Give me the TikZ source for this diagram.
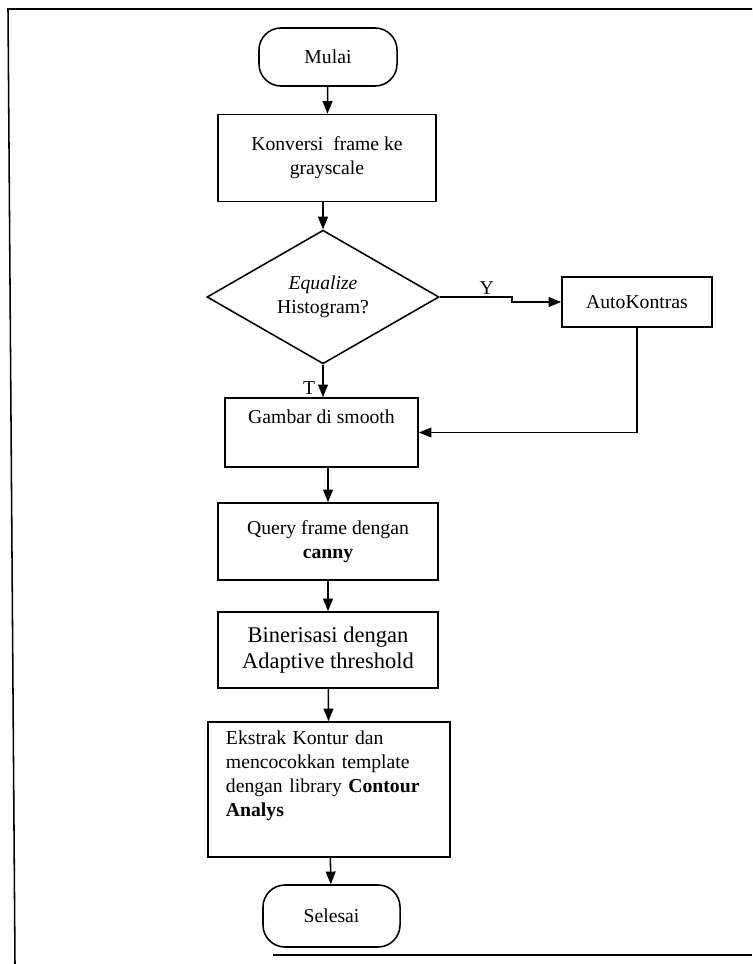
\documentclass[tikz,border=0pt]{standalone}
\usepackage{fontspec}
\setmainfont{Liberation Serif}
\usetikzlibrary{shapes.geometric,arrows.meta}

\begin{document}
\begin{tikzpicture}[x=0.025cm,y=-0.025cm,
  every node/.style={font=\fontsize{14}{17}\selectfont},
  flowbox/.style={draw,rectangle,line width=1.1pt,align=center,inner sep=2pt},
  terminal/.style={draw,rectangle,rounded corners=0.55cm,line width=1.1pt},
  decision/.style={draw,diamond,line width=1.1pt,align=center,inner sep=0pt},
  arr/.style={-{Triangle[length=9pt,width=7pt]},line width=1.1pt},
  link/.style={line width=1.1pt}]
\useasboundingbox (0,0) rectangle (752,964);
\draw[link] (15,964) -- (8,9) -- (752,9);
\draw[link] (273,955) -- (752,955);
\node[terminal,minimum width=3.45cm,minimum height=1.45cm] (mulai) at (328,57) {Mulai};
\node[flowbox,minimum width=5.45cm,minimum height=2.175cm] (konversi) at (327,158) {Konversi\ \ frame ke\\grayscale};
\node[decision,minimum width=5.8cm,minimum height=2.975cm] (equalize) at (323,297) {\textit{Equalize}\\Histogram?};
\node[flowbox,minimum width=3.75cm,minimum height=1.25cm] (autokontras) at (637,302) {AutoKontras};
\node[flowbox,minimum width=4.825cm,minimum height=1.725cm] (gambar) at (321.5,432.5) {Gambar di smooth\\\strut};
\node[flowbox,minimum width=5.5cm,minimum height=1.925cm] (query) at (328,541.5) {Query frame dengan\\\textbf{canny}};
\node[flowbox,minimum width=5.5cm,minimum height=1.9cm,font=\fontsize{16}{19}\selectfont] (binerisasi) at (328,650) {Binerisasi dengan\\Adaptive threshold};
\node[flowbox,minimum width=6.05cm,minimum height=3.375cm,inner xsep=0.45cm,text width=5.15cm,align=left] (ekstrak) at (329,789.5) {Ekstrak Kontur dan\\mencocokkan template\\dengan library \textbf{Contour}\\\textbf{Analys}\\\strut};
\node[terminal,minimum width=3.425cm,minimum height=1.55cm] (selesai) at (331.5,916) {Selesai};
\coordinate (jog) at (512,297);
\draw[arr] (mulai) -- (konversi);
\draw[arr] (konversi.south -| equalize.north) -- (equalize.north);
\draw[arr] (equalize.east) -- node[pos=0.65,above,inner sep=1pt] (ylabel) {Y} (jog) |- (autokontras.west);
\draw[arr] (equalize.south) -- node[pos=0.72,left,inner sep=5pt] (tlabel) {T} (equalize.south |- gambar.north);
\draw[arr] (autokontras) |- (gambar.east);
\draw[arr] (gambar.south -| query) -- (query);
\draw[arr] (query) -- (binerisasi);
\draw[arr] (binerisasi) -- (ekstrak);
\draw[arr] (ekstrak) -- (selesai);
\end{tikzpicture}
\end{document}
